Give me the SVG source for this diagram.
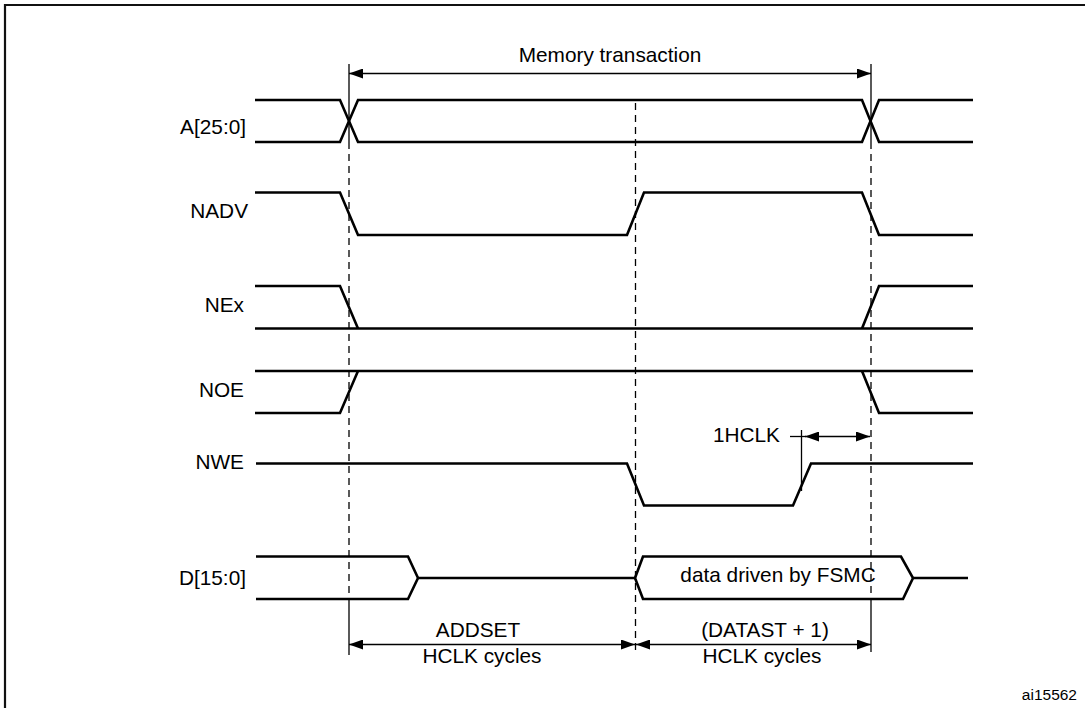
<svg xmlns="http://www.w3.org/2000/svg" width="1085" height="708" viewBox="0 0 1085 708">
<style>
.sig{fill:none;stroke:#000;stroke-width:2.6;stroke-linejoin:miter}
.lbl{font-family:"Liberation Sans",Arial,sans-serif;font-size:20.8px;fill:#000}
.end{text-anchor:end}
.mid{text-anchor:middle}
.dash{fill:none;stroke:#000;stroke-width:1.3;stroke-dasharray:7 5}
.thin{fill:none;stroke:#000;stroke-width:1.3}
.arr{fill:none;stroke:#000;stroke-width:1.3;marker-start:url(#ah);marker-end:url(#ah)}
</style>
<defs>
<marker id="ah" viewBox="0 0 14 10" refX="14" refY="5" markerWidth="14" markerHeight="10" markerUnits="userSpaceOnUse" orient="auto-start-reverse">
<path d="M0,0 L14,5 L0,10 z" fill="#000"/>
</marker>
</defs>
<rect x="0" y="0" width="1085" height="708" fill="#fff"/>
<path d="M5,712 L5,5 L1090,5" fill="none" stroke="#111" stroke-width="2.2"/>

<g id="A">
<text class="lbl end" x="246" y="134">A[25:0]</text>
<path class="sig" d="M255,100 L340,100 L358,142 L862,142 L879,100 L973,100"/>
<path class="sig" d="M255,142 L340,142 L358,100 L862,100 L879,142 L973,142"/>
</g>

<g id="NADV">
<text class="lbl end" x="248" y="218">NADV</text>
<path class="sig" d="M255,192.5 L340,192.5 L358,235 L627,235 L644,192.5 L862,192.5 L879,235 L973,235"/>
</g>

<g id="NEx">
<text class="lbl end" x="244" y="312">NEx</text>
<path class="sig" d="M255,286 L340,286 L358,328.5"/>
<path class="sig" d="M255,328.5 L973,328.5"/>
<path class="sig" d="M862,328.5 L879,286 L973,286"/>
</g>

<g id="NOE">
<text class="lbl end" x="244" y="397">NOE</text>
<path class="sig" d="M255,371 L973,371"/>
<path class="sig" d="M255,413 L340,413 L358,371"/>
<path class="sig" d="M862,371 L879,413 L973,413"/>
</g>

<g id="NWE">
<text class="lbl end" x="244" y="469">NWE</text>
<path class="sig" d="M256,463.5 L627,463.5 L644,505.5 L793,505.5 L811,463.5 L973,463.5"/>
</g>

<g id="D">
<text class="lbl end" x="246" y="585">D[15:0]</text>
<path class="sig" d="M256,556.5 L408,556.5 L418,578 L408,599 L256,599"/>
<path class="sig" d="M418,578 L635,578"/>
<path class="sig" d="M643,556.5 L901,556.5 L913,578 L903,599 L643,599 L635,578 Z"/>
<path class="sig" d="M913,578 L968,578"/>
<text class="lbl mid" x="778" y="582">data driven by FSMC</text>
</g>

<g id="connectors">
<line class="thin" x1="349" y1="64" x2="349" y2="142"/>
<line class="dash" x1="349" y1="142" x2="349" y2="599"/>
<line class="thin" x1="349" y1="599" x2="349" y2="655"/>
<line class="dash" x1="635.5" y1="103" x2="635.5" y2="652"/>
<line class="thin" x1="871" y1="64" x2="871" y2="142"/>
<line class="dash" x1="871" y1="142" x2="871" y2="599"/>
<line class="thin" x1="871" y1="599" x2="871" y2="652"/>
<line class="arr" x1="349" y1="73.5" x2="871" y2="73.5"/>
<line class="thin" x1="801.5" y1="430" x2="801.5" y2="491"/>
<line class="thin" x1="790" y1="436.5" x2="806" y2="436.5"/>
<line class="arr" x1="805" y1="436.5" x2="870" y2="436.5"/>
<line class="arr" x1="349" y1="644.5" x2="635" y2="644.5"/>
<line class="arr" x1="636" y1="644.5" x2="871" y2="644.5"/>
</g>

<g id="labels">
<text class="lbl mid" x="610" y="62">Memory transaction</text>
<text class="lbl end" x="780" y="442">1HCLK</text>
<text class="lbl mid" x="478" y="637">ADDSET</text>
<text class="lbl mid" x="482" y="663">HCLK cycles</text>
<text class="lbl mid" x="765" y="637">(DATAST + 1)</text>
<text class="lbl mid" x="762" y="663">HCLK cycles</text>
<text class="lbl end" x="1077" y="700" style="font-size:15.5px">ai15562</text>
</g>
</svg>
